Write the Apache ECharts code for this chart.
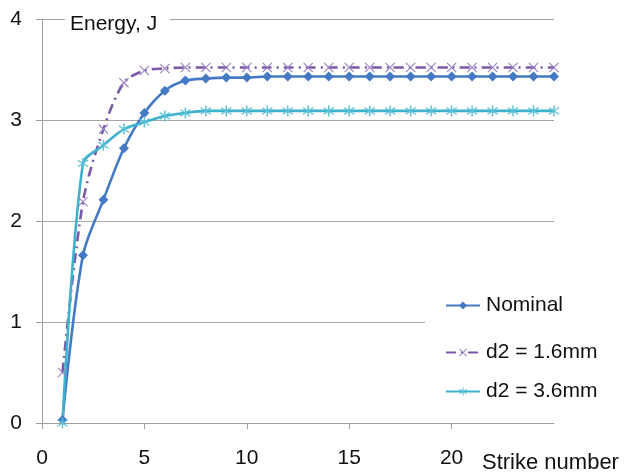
<!DOCTYPE html>
<html>
<head>
<meta charset="utf-8">
<script src="https://cdn.jsdelivr.net/npm/echarts@6/dist/echarts.min.js"></script>
<style>
  html, body { margin: 0; padding: 0; background: #fff; }
  #chart { width: 624px; height: 475px; }
</style>
</head>
<body>
<div id="chart"></div>
<script>
// Strike index and measured energy per strike (J)
const strikes = [1, 2, 3, 4, 5, 6, 7, 8, 9, 10, 11, 12, 13, 14, 15, 16, 17, 18, 19, 20, 21, 22, 23, 24, 25];
const nominal = [0.03, 1.66, 2.21, 2.72, 3.07, 3.29, 3.39, 3.41, 3.42, 3.42, 3.43, 3.43, 3.43, 3.43, 3.43, 3.43, 3.43, 3.43, 3.43, 3.43, 3.43, 3.43, 3.43, 3.43, 3.43];
const d2_16 = [0.50, 2.19, 2.91, 3.37, 3.49, 3.51, 3.52, 3.52, 3.52, 3.52, 3.52, 3.52, 3.52, 3.52, 3.52, 3.52, 3.52, 3.52, 3.52, 3.52, 3.52, 3.52, 3.52, 3.52, 3.52];
const d2_36 = [0.00, 2.57, 2.75, 2.91, 2.98, 3.04, 3.07, 3.09, 3.09, 3.09, 3.09, 3.09, 3.09, 3.09, 3.09, 3.09, 3.09, 3.09, 3.09, 3.09, 3.09, 3.09, 3.09, 3.09, 3.09];
const seriesNames = ['Nominal', 'd2 = 1.6mm', 'd2 = 3.6mm'];
const xTitle = 'Strike number';
const yTitle = 'Energy, J';

const FONT = 'Liberation Sans, Arial, sans-serif';
const TEXT = '#111111';
const FS = 21;

// Marker shapes: a thin "x" and a six-armed asterisk
const crossPath = 'path://M0.8,0L10,9.2L9.2,10L0,0.8Z M0,9.2L9.2,0L10,0.8L0.8,10Z';
const starPath = 'path://M4.4,0L5.6,0L5.6,10L4.4,10Z M1,1.6L9.6,7.6L9,8.5L0.4,2.5Z M0.4,7.5L9,1.5L9.6,2.4L1,8.4Z';

const pairs = (ys) => strikes.map((x, i) => [x, ys[i]]);

const chart = echarts.init(document.getElementById('chart'), null, { renderer: 'canvas' });

const legendBase = {
  orient: 'horizontal',
  left: 445,
  itemWidth: 34,
  itemHeight: 10,
  itemGap: 0,
  padding: 0,
  z: 20,
  textStyle: { fontSize: FS, color: TEXT, fontFamily: FONT, padding: [0, 0, 0, 1] }
};

chart.setOption({
  animation: false,
  backgroundColor: '#ffffff',
  grid: { left: 42, right: 70, top: 19, bottom: 52, containLabel: false },
  xAxis: {
    type: 'value',
    min: 0,
    max: 25,
    interval: 5,
    axisLine: { show: true, lineStyle: { color: '#9f9f9f', width: 1 } },
    axisTick: { show: true, length: 6, lineStyle: { color: '#9f9f9f' } },
    splitLine: { show: false },
    axisLabel: { fontSize: FS, color: TEXT, fontFamily: FONT, margin: 25, showMaxLabel: false }
  },
  yAxis: {
    type: 'value',
    min: 0,
    max: 4,
    interval: 1,
    axisLine: { show: true, lineStyle: { color: '#9f9f9f', width: 1 } },
    axisTick: { show: true, length: 6, lineStyle: { color: '#9f9f9f' } },
    splitLine: { show: true, lineStyle: { color: '#a6a6a6', width: 1 } },
    axisLabel: { fontSize: FS, color: TEXT, fontFamily: FONT, margin: 20 }
  },
  legend: [
    Object.assign({}, legendBase, { data: [seriesNames[0]], top: 295 }),
    Object.assign({}, legendBase, { data: [seriesNames[1]], top: 342 }),
    Object.assign({}, legendBase, { data: [seriesNames[2]], top: 381 })
  ],
  graphic: [
    { type: 'rect', z: 10, shape: { x: 65, y: 10, width: 105, height: 20 }, style: { fill: '#ffffff' } },
    { type: 'text', z: 11, style: { x: 70, y: 24, text: yTitle, fontSize: FS, fontFamily: FONT, fill: TEXT, textVerticalAlign: 'middle', textAlign: 'left' } },
    { type: 'rect', z: 10, shape: { x: 425, y: 285, width: 199, height: 125 }, style: { fill: '#ffffff' } },
    { type: 'text', z: 11, style: { x: 482, y: 463, text: xTitle, fontSize: FS + 1, fontFamily: FONT, fill: TEXT, textVerticalAlign: 'middle', textAlign: 'left' } }
  ],
  series: [
    {
      name: seriesNames[0],
      type: 'line',
      data: pairs(nominal),
      smooth: 0.3,
      symbol: 'diamond',
      symbolSize: [10, 10],
      lineStyle: { color: '#4479c4', width: 2.6 },
      itemStyle: { color: '#4479c4' }
    },
    {
      name: seriesNames[1],
      type: 'line',
      data: pairs(d2_16),
      smooth: 0.3,
      symbol: crossPath,
      symbolSize: 10,
      lineStyle: { color: '#7b59a8', width: 2.6, type: [10, 5, 2, 5] },
      itemStyle: { color: '#9a82c4' }
    },
    {
      name: seriesNames[2],
      type: 'line',
      data: pairs(d2_36),
      smooth: 0.3,
      symbol: starPath,
      symbolSize: 11,
      lineStyle: { color: '#3eb1cc', width: 2.6 },
      itemStyle: { color: '#5cc0d8' }
    }
  ]
});
</script>
</body>
</html>
